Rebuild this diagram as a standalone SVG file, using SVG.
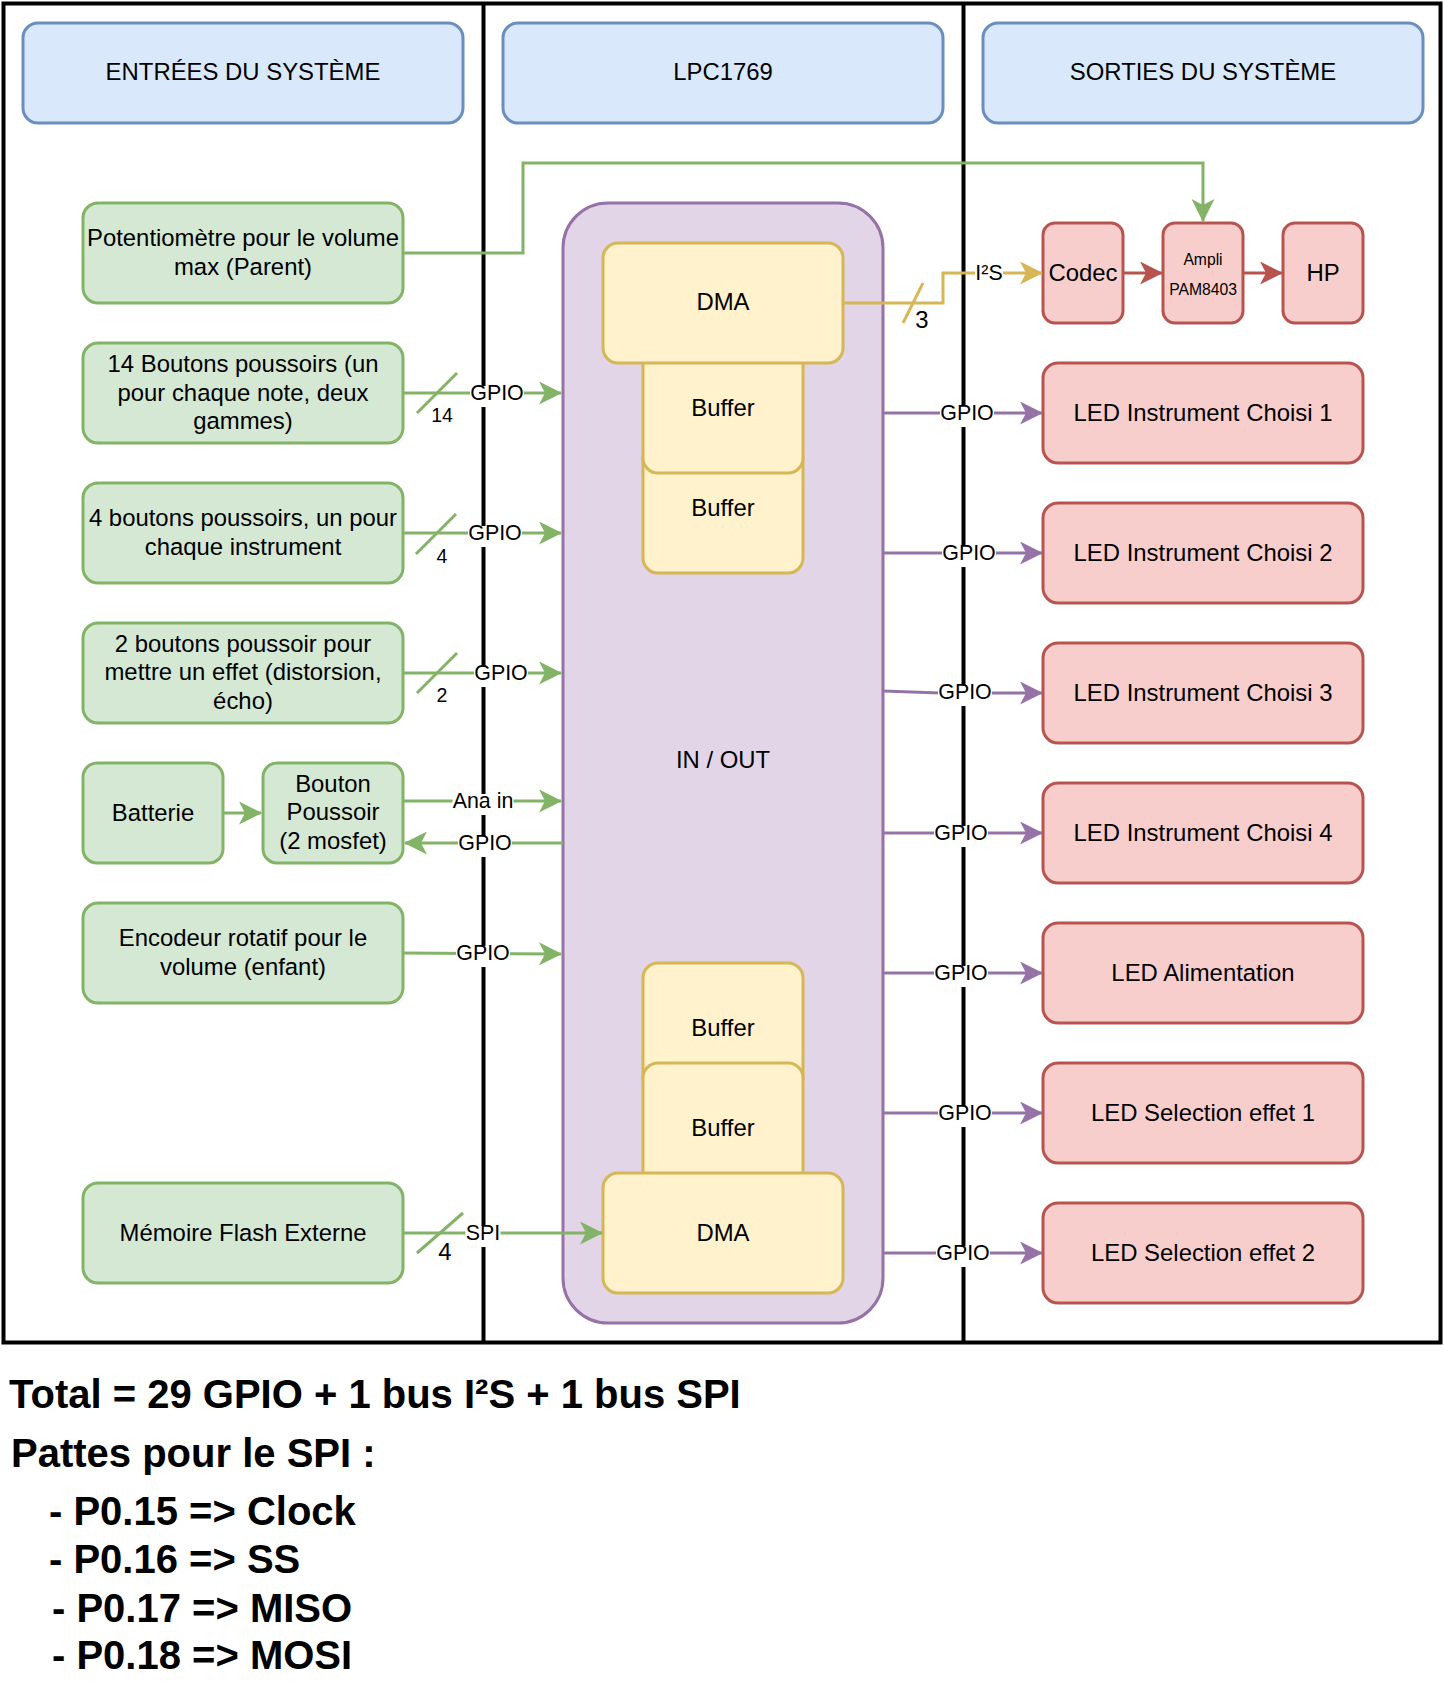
<svg xmlns="http://www.w3.org/2000/svg" width="1444" height="1704" viewBox="0 0 1444 1704">
<defs>
<style>
text{font-family:"Liberation Sans",Arial,Helvetica,sans-serif;fill:#000}
.n{font-size:23.9px;text-anchor:middle}
.l{font-size:21.4px;text-anchor:middle}
.s{font-size:19.5px;text-anchor:middle}
.t{font-size:15.7px;text-anchor:middle}
.b{font-size:40px;font-weight:bold}
.g{fill:#d5e8d4;stroke:#82b366;stroke-width:3}
.h{fill:#dae8fc;stroke:#6c8ebf;stroke-width:3}
.r{fill:#f8cecc;stroke:#b85450;stroke-width:3}
.y{fill:#fff2cc;stroke:#d6b656;stroke-width:3}
.p{fill:#e1d5e7;stroke:#9673a6;stroke-width:3}
.cg{fill:none;stroke:#82b366;stroke-width:3}
.cp{fill:none;stroke:#9673a6;stroke-width:3}
.cy{fill:none;stroke:#d6b656;stroke-width:3}
.cr{fill:none;stroke:#b85450;stroke-width:3}
.bg{fill:#fff}
.frame{fill:none;stroke:#000;stroke-width:4}
</style>
<marker id="ag" markerUnits="userSpaceOnUse" markerWidth="23" markerHeight="23" viewBox="0 0 23 23" refX="22" refY="11.5" orient="auto"><path d="M0,0 L23,11.5 L0,23 L6,11.5 Z" fill="#82b366"/></marker>
<marker id="ap" markerUnits="userSpaceOnUse" markerWidth="23" markerHeight="23" viewBox="0 0 23 23" refX="22" refY="11.5" orient="auto"><path d="M0,0 L23,11.5 L0,23 L6,11.5 Z" fill="#9673a6"/></marker>
<marker id="ay" markerUnits="userSpaceOnUse" markerWidth="23" markerHeight="23" viewBox="0 0 23 23" refX="22" refY="11.5" orient="auto"><path d="M0,0 L23,11.5 L0,23 L6,11.5 Z" fill="#d6b656"/></marker>
<marker id="ar" markerUnits="userSpaceOnUse" markerWidth="23" markerHeight="23" viewBox="0 0 23 23" refX="22" refY="11.5" orient="auto"><path d="M0,0 L23,11.5 L0,23 L6,11.5 Z" fill="#b85450"/></marker>
</defs>
<rect x="0" y="0" width="1444" height="1704" fill="#fff"/>
<g id="frame">
<rect class="frame" x="3.5" y="3.5" width="1437" height="1339"/>
<line class="frame" x1="483.5" y1="3" x2="483.5" y2="1343"/>
<line class="frame" x1="963.5" y1="3" x2="963.5" y2="1343"/>
</g>
<g id="hdr-entrees"><rect class="h" x="23" y="23" width="440" height="100" rx="15"/><text class="n" x="243" y="79.5">ENTRÉES DU SYSTÈME</text></g>
<g id="hdr-lpc"><rect class="h" x="503" y="23" width="440" height="100" rx="15"/><text class="n" x="723" y="79.5">LPC1769</text></g>
<g id="hdr-sorties"><rect class="h" x="983" y="23" width="440" height="100" rx="15"/><text class="n" x="1203" y="79.5">SORTIES DU SYSTÈME</text></g>
<g id="n-potentio"><rect class="g" x="83" y="203" width="320" height="100" rx="15"/><text class="n" x="243" y="246">Potentiomètre pour le volume</text><text class="n" x="243" y="275">max (Parent)</text></g>
<g id="n-boutons14"><rect class="g" x="83" y="343" width="320" height="100" rx="15"/><text class="n" x="243" y="372">14 Boutons poussoirs (un</text><text class="n" x="243" y="400.5">pour chaque note, deux</text><text class="n" x="243" y="429">gammes)</text></g>
<g id="n-boutons4"><rect class="g" x="83" y="483" width="320" height="100" rx="15"/><text class="n" x="243" y="526">4 boutons poussoirs, un pour</text><text class="n" x="243" y="554.5">chaque instrument</text></g>
<g id="n-boutons2"><rect class="g" x="83" y="623" width="320" height="100" rx="15"/><text class="n" x="243" y="651.5">2 boutons poussoir pour</text><text class="n" x="243" y="680">mettre un effet (distorsion,</text><text class="n" x="243" y="708.5">écho)</text></g>
<g id="n-batterie"><rect class="g" x="83" y="763" width="140" height="100" rx="14"/><text class="n" x="153" y="820.5">Batterie</text></g>
<g id="n-bouton"><rect class="g" x="263" y="763" width="140" height="100" rx="14"/><text class="n" x="333" y="791.5">Bouton</text><text class="n" x="333" y="820">Poussoir</text><text class="n" x="333" y="848.5">(2 mosfet)</text></g>
<g id="n-encodeur"><rect class="g" x="83" y="903" width="320" height="100" rx="15"/><text class="n" x="243" y="946">Encodeur rotatif pour le</text><text class="n" x="243" y="974.5">volume (enfant)</text></g>
<g id="n-memoire"><rect class="g" x="83" y="1183" width="320" height="100" rx="15"/><text class="n" x="243" y="1240.5">Mémoire Flash Externe</text></g>
<g id="n-inout"><rect class="p" x="563" y="203" width="320" height="1120" rx="45"/><text class="n" x="723" y="768">IN / OUT</text></g>
<g id="n-buffer2"><rect class="y" x="643" y="443" width="160" height="130" rx="15"/><text class="n" x="723" y="515.5">Buffer</text></g>
<g id="n-buffer1"><rect class="y" x="643" y="343" width="160" height="130" rx="15"/><text class="n" x="723" y="415.5">Buffer</text></g>
<g id="n-dma1"><rect class="y" x="603" y="243" width="240" height="120" rx="15"/><text class="n" x="723" y="310">DMA</text></g>
<g id="n-buffer3"><rect class="y" x="643" y="963" width="160" height="130" rx="15"/><text class="n" x="723" y="1035.5">Buffer</text></g>
<g id="n-buffer4"><rect class="y" x="643" y="1063" width="160" height="130" rx="15"/><text class="n" x="723" y="1135.5">Buffer</text></g>
<g id="n-dma2"><rect class="y" x="603" y="1173" width="240" height="120" rx="15"/><text class="n" x="723" y="1240.5">DMA</text></g>
<g id="n-codec"><rect class="r" x="1043" y="223" width="80" height="100" rx="12"/><text class="n" x="1083" y="280.5">Codec</text></g>
<g id="n-ampli"><rect class="r" x="1163" y="223" width="80" height="100" rx="12"/><text class="t" x="1203" y="265">Ampli</text><text class="t" x="1203" y="295">PAM8403</text></g>
<g id="n-hp"><rect class="r" x="1283" y="223" width="80" height="100" rx="12"/><text class="n" x="1323" y="280.5">HP</text></g>
<g id="n-led1"><rect class="r" x="1043" y="363" width="320" height="100" rx="15"/><text class="n" x="1203" y="420.5">LED Instrument Choisi 1</text></g>
<g id="n-led2"><rect class="r" x="1043" y="503" width="320" height="100" rx="15"/><text class="n" x="1203" y="560.5">LED Instrument Choisi 2</text></g>
<g id="n-led3"><rect class="r" x="1043" y="643" width="320" height="100" rx="15"/><text class="n" x="1203" y="700.5">LED Instrument Choisi 3</text></g>
<g id="n-led4"><rect class="r" x="1043" y="783" width="320" height="100" rx="15"/><text class="n" x="1203" y="840.5">LED Instrument Choisi 4</text></g>
<g id="n-ledalim"><rect class="r" x="1043" y="923" width="320" height="100" rx="15"/><text class="n" x="1203" y="980.5">LED Alimentation</text></g>
<g id="n-ledsel1"><rect class="r" x="1043" y="1063" width="320" height="100" rx="15"/><text class="n" x="1203" y="1120.5">LED Selection effet 1</text></g>
<g id="n-ledsel2"><rect class="r" x="1043" y="1203" width="320" height="100" rx="15"/><text class="n" x="1203" y="1260.5">LED Selection effet 2</text></g>
<g id="connectors">
<path class="cg" d="M403,253 H523 V163 H1203 V221" marker-end="url(#ag)"/>
<path class="cg" d="M403,393 H561" marker-end="url(#ag)"/>
<line class="cg" x1="417" y1="413" x2="457" y2="373"/>
<rect class="bg" x="470" y="386" width="54" height="21"/><text class="l" x="497" y="400">GPIO</text>
<text class="s" x="442" y="422">14</text>
<path class="cg" d="M403,533 H561" marker-end="url(#ag)"/>
<line class="cg" x1="416" y1="554" x2="456" y2="514"/>
<rect class="bg" x="468" y="526" width="54" height="21"/><text class="l" x="495" y="540">GPIO</text>
<text class="s" x="442" y="563">4</text>
<path class="cg" d="M403,673 H561" marker-end="url(#ag)"/>
<line class="cg" x1="417" y1="693" x2="457" y2="653"/>
<rect class="bg" x="474" y="666" width="54" height="21"/><text class="l" x="501" y="680">GPIO</text>
<text class="s" x="442" y="702">2</text>
<path class="cg" d="M223,813 H261" marker-end="url(#ag)"/>
<path class="cg" d="M403,801 H561" marker-end="url(#ag)"/>
<rect class="bg" x="452.5" y="794" width="61" height="21"/><text class="l" x="483" y="808">Ana in</text>
<path class="cg" d="M563,843 H405" marker-end="url(#ag)"/>
<rect class="bg" x="458" y="836" width="54" height="21"/><text class="l" x="485" y="850">GPIO</text>
<path class="cg" d="M403,953 L561,954" marker-end="url(#ag)"/>
<rect class="bg" x="456" y="946" width="54" height="21"/><text class="l" x="483" y="960">GPIO</text>
<path class="cg" d="M403,1233 H602" marker-end="url(#ag)"/>
<line class="cg" x1="417" y1="1253" x2="463" y2="1213"/>
<rect class="bg" x="465.5" y="1226" width="35" height="21"/><text class="l" x="483" y="1240">SPI</text>
<text class="n" x="445" y="1260">4</text>
<path class="cy" d="M843,303 H943 V273 H1042" marker-end="url(#ay)"/>
<line class="cy" x1="903" y1="323" x2="923" y2="283"/>
<text class="n" x="922" y="328">3</text>
<rect class="bg" x="975" y="266" width="28" height="21"/><text class="l" x="989" y="280">I²S</text>
<path class="cr" d="M1123,273 H1162" marker-end="url(#ar)"/>
<path class="cr" d="M1243,273 H1282" marker-end="url(#ar)"/>
<path class="cp" d="M883,413 H1042" marker-end="url(#ap)"/>
<rect class="bg" x="940" y="406" width="54" height="21"/><text class="l" x="967" y="420">GPIO</text>
<path class="cp" d="M883,553 H1042" marker-end="url(#ap)"/>
<rect class="bg" x="942" y="546" width="54" height="21"/><text class="l" x="969" y="560">GPIO</text>
<path class="cp" d="M883,691 L940,693 H1042" marker-end="url(#ap)"/>
<rect class="bg" x="938" y="685" width="54" height="21"/><text class="l" x="965" y="699">GPIO</text>
<path class="cp" d="M883,833 H1042" marker-end="url(#ap)"/>
<rect class="bg" x="934" y="826" width="54" height="21"/><text class="l" x="961" y="840">GPIO</text>
<path class="cp" d="M883,973 H1042" marker-end="url(#ap)"/>
<rect class="bg" x="934" y="966" width="54" height="21"/><text class="l" x="961" y="980">GPIO</text>
<path class="cp" d="M883,1113 H1042" marker-end="url(#ap)"/>
<rect class="bg" x="938" y="1106" width="54" height="21"/><text class="l" x="965" y="1120">GPIO</text>
<path class="cp" d="M883,1253 H1042" marker-end="url(#ap)"/>
<rect class="bg" x="936" y="1246" width="54" height="21"/><text class="l" x="963" y="1260">GPIO</text>
</g>
<g id="notes">
<text class="b" x="9" y="1408">Total = 29 GPIO + 1 bus I²S + 1 bus SPI</text>
<text class="b" x="11" y="1467">Pattes pour le SPI :</text>
<text class="b" x="49" y="1525">- P0.15 =&gt; Clock</text>
<text class="b" x="49" y="1573">- P0.16 =&gt; SS</text>
<text class="b" x="52" y="1622">- P0.17 =&gt; MISO</text>
<text class="b" x="52" y="1669">- P0.18 =&gt; MOSI</text>
</g>
</svg>
